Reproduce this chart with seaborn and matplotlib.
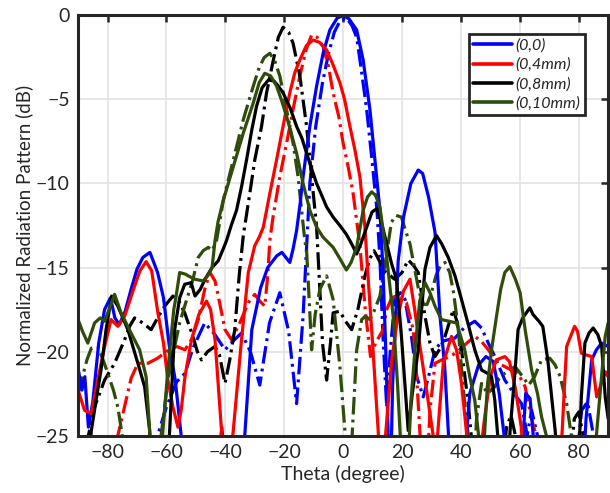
import numpy as np
import pandas as pd
import matplotlib
matplotlib.use("Agg")
import matplotlib.pyplot as plt
from matplotlib.lines import Line2D
import seaborn as sns

# ---------------- data (theta in degree, normalized pattern in dB) ----------------
labels = ["(0,0)", "(0,4mm)", "(0,8mm)", "(0,10mm)"]

# (0,0) solid
th_b_s = [-90, -88.7, -87.7, -86.5, -85, -83, -81, -79, -77.5, -76, -74, -72, -70, -68, -65.6, -63, -61, -59, -57, -55, -54,
          -42.5, -41.2, -40, -34, -33.4, -31, -28, -25.6, -22.5, -20.8, -18.1, -17, -15.8, -14.6, -13.6, -11.3, -9.0, -6.8, -4.5,
          -2, 0, 2, 4.6, 6.8, 9.1, 10.8, 12.5, 13.5, 14.5, 15.3, 15.8, 16.2, 16.8, 18.7, 20.5, 23, 25.5, 27, 29, 31.2, 32.9, 34.5,
          35.7, 36.5, 41, 43, 46, 48.5, 51, 53, 55, 56, 60.5, 62, 63.5, 65.5, 81.5, 82.5, 84.4, 86, 87.8, 90]
db_b_s = [-21.0, -22.3, -21.5, -24.5, -23, -19.5, -17.5, -16.8, -18.0, -18.4, -17.6, -16.3, -15.1, -14.4, -14.1, -15.3, -16.8, -19.7, -21.7, -25, -27,
          -27, -24.5, -27, -27, -25, -18.7, -16.2, -15.0, -14.3, -14.1, -14.7, -13.9, -12.8, -11.2, -9.6, -6.6, -4.2, -2.25, -0.86,
          -0.15, 0, -0.2, -0.86, -2.65, -5.6, -8.6, -11.6, -15, -20, -25, -27, -27, -22, -14.6, -12, -10, -9.2, -9.4, -10.8, -12.9, -17.9, -20.9,
          -24.7, -27, -27, -22.5, -20.8, -20.3, -20.6, -22.5, -25.5, -27, -27, -22.5, -22.8, -27, -27, -24, -20.5, -19.9, -19.5, -19.7]

# (0,0) dash-dot
th_b_d = [-90, -64, -63, -60, -56.5, -53.7, -51, -47, -43.5, -40.1, -37.5, -34.5, -31.5, -28.3, -25, -21.5, -18.5, -15.8, -13.6,
          -11.3, -9.3, -7.0, -5, -3, -1, 1.2, 3, 4.6, 6, 8, 9.8, 11.5, 12.5, 13.5, 14.8, 16, 17.6, 19.5, 21, 23.2, 25, 27.2, 29, 31.2,
          33.5, 35.7, 38, 41, 44.7, 47, 49.3, 51.5, 54.9, 58, 60.6, 62.5, 63, 64, 66, 67, 79, 81, 83, 85, 86, 90]
db_b_d = [-27, -27, -25.0, -23.3, -21.8, -21.3, -19.8, -18.3, -19.0, -19.9, -19.4, -18.9, -20.0, -22.0, -18.3, -16.5, -18.8, -23.1, -17.9,
          -10, -6.6, -4.0, -2.3, -1.0, -0.3, -0.15, -0.6, -1.3, -3.0, -5.6, -8.6, -11.6, -14.5, -19, -23.3, -20, -16.8, -16.5, -16.9, -19.1,
          -21.5, -22.7, -21.5, -19.9, -19.4, -19.3, -19.2, -18.6, -18.2, -18.6, -19.5, -20.3, -21.7, -22.5, -23.1, -25, -24.5, -23.5, -25,
          -27, -27, -23.5, -23, -25, -27, -27]

# (0,4mm) solid
th_r_s = [-90, -87.8, -85.5, -83.3, -81, -78.8, -76.5, -74.2, -72.5, -70.8, -69, -66.9, -65, -62.9, -61, -59.5, -57.8, -56.1, -55,
          -53.7, -51.5, -49, -46.4, -45, -43.5, -41.3, -40.5, -38.5, -37.3, -34.5, -32.2, -30, -28.5, -27.1, -24.9, -22.6, -20.4, -18.1,
          -16.4, -14.7, -12.5, -10.2, -8, -5.6, -3.5, -1.1, 0.5, 2.3, 4, 5.7, 7.4, 8.6, 10, 11.9, 12.5, 13.8, 14.4, 16.5, 18.5, 20.5,
          22.7, 24.3, 26.1, 28.5, 30.5, 31.2, 32.5, 34, 36.8, 38.5, 40.2, 42, 43, 46, 48, 50, 52, 54.9, 56.5, 58.5, 60.5, 61.5, 73.5,
          74.4, 75.3, 75.9, 77, 78.6, 79.6, 80.9, 82.5, 84.4, 86.1, 87.5, 89, 90]
db_r_s = [-22.3, -23.5, -23.7, -21.7, -19.7, -18.1, -18.5, -17.9, -17.0, -16.1, -15.2, -14.65, -15.2, -17.7, -19.5, -21.7, -23.3, -24.5, -23.5,
          -21.5, -19.3, -17.8, -17.0, -17.5, -19.3, -24.7, -27, -27, -24.7, -19.3, -15.3, -13.7, -13.2, -12.6, -10.6, -8.6, -6.6, -4.6,
          -3.4, -2.65, -1.8, -1.46, -1.6, -2.05, -2.9, -4.0, -5.0, -6.6, -8.0, -9.6, -12.6, -15.9, -19.5, -24.7, -27, -27, -25, -20.5, -18, -16.4,
          -15.7, -17.5, -19.7, -22.5, -24.9, -27, -24, -20.7, -19.1, -19.9, -21.9, -25, -27, -27, -24, -21.5, -20.5, -20.3, -20.6, -22.2, -24.5, -27, -27,
          -24.7, -21.6, -19.7, -19.2, -18.5, -18.8, -20.1, -20.2, -20.3, -22.7, -22, -21.2, -21.5]

# (0,4mm) dash-dot
th_r_d = [-90, -78, -76.5, -74.5, -72, -69.7, -66.3, -63, -60, -56.5, -53.7, -51.5, -49.2, -47, -45.2, -43.5, -42.4, -40.1, -37.9, -35.1,
          -32.2, -30, -28.3, -26.6, -25.6, -24.9, -23.8, -21.5, -19.2, -17.0, -14.7, -12.5, -10.7, -8.8, -6.8, -5, -3.4, -1.5, 0, 1.7,
          3.4, 5.7, 7.5, 9.3, 11, 13.6, 14.8, 16.5, 18.1, 19.8, 21.5, 23.8, 24.8, 26.1, 26.6, 28.5, 29.5, 31.2, 33.5, 36.2, 39, 42, 44.7,
          47, 49.3, 52.7, 56, 59.4, 61.8, 64, 65.5, 66.5, 90]
db_r_d = [-27, -27, -25, -23.5, -21.6, -20.7, -20.7, -20.4, -20.0, -19.7, -19.9, -19.3, -18.1, -16.3, -15.3, -15.8, -16.7, -18.7, -19.3, -18.3,
          -17.1, -16.6, -17.0, -17.3, -15.5, -13.4, -12.0, -9.6, -7.6, -5.6, -3.6, -2.0, -1.16, -1.3, -1.86, -3.0, -4.6, -6.0, -7.6, -9.0,
          -10.6, -13.7, -17.5, -20.3, -19.5, -18.7, -17.5, -16.8, -16.7, -16.8, -17.1, -18.7, -21, -24.9, -27, -27, -23.5, -20.7, -20.5, -20.3,
          -20.0, -19.5, -19.1, -19.4, -19.9, -20.7, -21, -21.3, -22.1, -24, -25, -27, -27]

# (0,8mm) solid
th_k_s = [-90, -86.5, -85.5, -83.8, -82.2, -80.5, -78.6, -76.5, -73.1, -69.7, -67.4, -65.7, -65, -59.7, -58.9, -57.2, -55.5, -53.8, -51.6,
          -50.3, -48.5, -46.9, -44.5, -42.4, -40.5, -39.6, -38, -36.2, -34.5, -32.8, -31, -29.4, -27.5, -25.4, -23.5, -22, -20.4, -18,
          -15.8, -14, -12.4, -11.3, -9.0, -6.8, -5.6, -3.4, -1.1, 1, 2.3, 3.5, 4.6, 6, 8.0, 9.8, 11.4, 13, 14.8, 16.5, 18.1, 19.8, 21,
          22.1, 23.5, 25.5, 27.8, 29.5, 31.7, 33.5, 35.7, 38, 40.2, 42.5, 44.7, 47.0, 49, 50.4, 51.5, 52.5, 53.5, 56, 56.7, 58.4, 59.4,
          61, 63.4, 64.5, 66.5, 67.8, 69.5, 70.8, 72, 73, 79.5, 80.3, 80.9, 82.1, 83.5, 84.9, 86.5, 87.8, 89, 90]
db_k_s = [-27, -27, -24.7, -22.8, -21.1, -18.7, -16.7, -17.3, -18.7, -20.7, -22.1, -24.7, -27, -27, -24.7, -18.7, -16.8, -16.0, -15.9,
          -16.7, -16.3, -15.7, -15.0, -14.6, -13.8, -13.4, -12.5, -11.6, -10.2, -8.6, -6.8, -5.4, -4.3, -3.84, -3.9, -4.2, -4.6, -5.5,
          -6.6, -7.3, -8.2, -8.8, -10.0, -10.9, -11.4, -12.0, -12.5, -13.0, -13.4, -13.8, -14.2, -13.6, -12.6, -11.7, -11.5, -12.3, -13.6,
          -14.8, -15.7, -19.1, -22, -24.7, -22.5, -19.9, -15.1, -13.8, -13.1, -13.6, -14.4, -15.5, -16.9, -18.4, -19.9, -21.1, -21.3, -21.5,
          -22.9, -25, -27, -27, -24.7, -21.1, -18.7, -18.0, -17.4, -17.8, -18.2, -18.5, -20.5, -22.7, -24.7, -27, -27, -25, -22.7, -19.5,
          -18.9, -18.6, -19.0, -19.7, -22.7, -24]

# (0,8mm) dash-dot
th_k_d = [-90, -87, -86.5, -84.4, -81, -77.6, -74.2, -72.5, -70.8, -68, -65.2, -63, -60.6, -57.8, -55.8, -53.8, -51, -49.5, -48.1, -46,
          -43.5, -42, -40.1, -38.5, -36.8, -35.3, -33.9, -31.7, -30, -27.7, -26, -23.7, -22, -20.4, -18.5, -17, -14.7, -12.4, -10.7,
          -9.0, -8, -7, -5.6, -4.3, -3.4, -1.1, 0.8, 2.9, 5, 7.4, 9, 10.5, 12, 14, 17.5, 20, 22.1, 24, 25.5, 27.8, 29.5, 31.2, 33,
          34.6, 37.4, 38.8, 40.2, 42.5, 43.5, 44, 54, 55.5, 57, 58.5, 59, 77, 78.5, 80, 81.5, 82, 90]
db_k_d = [-27, -27, -25, -23.3, -21.7, -20.7, -19.3, -18.5, -18.0, -18.3, -18.7, -18.0, -17.3, -16.7, -17.0, -17.7, -19.1, -20.0, -20.5, -20.0,
          -19.7, -20.2, -21.9, -20.5, -18.7, -15.5, -13.1, -10.6, -8.6, -6.6, -4.6, -2.65, -1.3, -0.7, -1.0, -1.65, -3.6, -6.6, -9.6,
          -12.6, -16, -19.5, -21.7, -19.5, -17.7, -17.6, -18.2, -18.7, -17.5, -15.5, -14.5, -14.0, -14.5, -15.2, -15.7, -15.3, -14.55, -14.9,
          -15.3, -17.9, -19.5, -20.3, -19.8, -19.1, -17.5, -18.3, -19.9, -23.1, -25, -27, -27, -24.5, -23.8, -25, -27, -27, -24, -23.6, -25,
          -27, -27]

# (0,10mm) solid
th_g_s = [-90, -88.5, -86.7, -84.4, -82.5, -81, -79.5, -77.6, -75.4, -72, -69.1, -66.9, -65.7, -65, -62, -61.2, -59.5, -57.5, -56.7, -55.5,
          -53.5, -52.6, -50.3, -47.5, -46, -44.5, -43.5, -42.5, -40.7, -39, -37.3, -35.6, -33.9, -32.2, -30.5, -28.5, -26.6, -24.6, -22.6,
          -21, -19.2, -17.5, -15.8, -13.6, -11.3, -9.0, -6.8, -3.4, -1, 1.1, 2.7, 4.6, 6.8, 8.3, 9.7, 11, 12.5, 14.8, 17.0, 18.5, 19.3,
          20, 22, 23, 24.4, 26, 27.8, 29.5, 31.2, 33.4, 36, 38.5, 41.3, 43, 44.7, 46, 47, 48, 49, 50.4, 52, 53.5, 54.9, 56.6, 58.5, 60.1,
          61.8, 64, 66, 67.4, 69, 70, 85, 86, 88, 89, 90]
db_g_s = [-18.1, -18.8, -19.5, -18.3, -18.0, -18.2, -17.5, -16.6, -17.7, -18.9, -19.9, -21.5, -24.7, -27, -27, -24.7, -21.1, -17.5, -16.7, -15.3,
          -15.4, -15.5, -15.7, -15.8, -15.5, -15.0, -13.4, -12.3, -11.0, -10.0, -9.0, -8.0, -7.0, -6.1, -5.2, -4.0, -3.44, -3.6, -4.2,
          -5.0, -6.0, -7.1, -8.2, -10.0, -11.6, -12.6, -13.2, -13.8, -14.5, -15.15, -14.7, -13.8, -11.6, -10.8, -10.5, -10.7, -11.4, -14.4,
          -17.9, -22, -24.7, -27, -27, -23, -19.9, -17, -15.9, -16.5, -17.3, -18.1, -18.2, -18.3, -19.9, -21.5, -22.9, -25, -27, -25, -22,
          -19.9, -18, -16.3, -15.3, -14.95, -15.7, -16.5, -18.7, -21.1, -22.5, -23.9, -25, -27, -27, -25, -21, -19.1, -18.3]

# (0,10mm) dash-dot
th_g_d = [-90, -88.5, -87, -85.5, -83.3, -81.5, -79.9, -78, -76.5, -75, -74, -62.5, -61.8, -59.5, -57.2, -55.5, -53.8, -51, -49.2, -47.5,
          -45.8, -44.5, -43.0, -41.8, -40.7, -39, -37.3, -35.6, -33.9, -32.2, -30.5, -28.5, -26.8, -24.9, -23.2, -21.5, -19.2, -17.0,
          -15.3, -14.1, -13.0, -12.4, -11.5, -10.7, -9.5, -7.9, -5.6, -3.4, -1.1, 0.6, 1.2, 2.5, 3.2, 4.6, 6.3, 7.5, 9.1, 10.5, 12.5,
          14.5, 16.4, 18, 19.8, 21, 22.7, 24, 25.5, 27, 28.5, 30, 31.5, 33, 34.6, 36.2, 37.5, 39, 40.2, 41.5, 42.5, 43, 44.5, 45.3,
          47.0, 49, 51.5, 53, 54.9, 58.4, 61, 63, 65, 67.4, 70.2, 72, 73.7, 75.9, 77.5, 78, 90]
db_g_d = [-22.5, -21.5, -20.5, -19.8, -19.7, -20.5, -21.3, -22.3, -23.3, -25, -27, -27, -25, -21.7, -19.7, -18.3, -17.3, -15.7, -14.4, -14.0,
          -13.8, -14.0, -13.4, -12.2, -11.0, -9.8, -8.6, -7.4, -6.2, -5.2, -4.2, -3.1, -2.5, -2.25, -2.7, -3.6, -5.6, -7.6,
          -9.6, -11.6, -13.4, -14.0, -17, -19.9, -17.8, -16.3, -15.5, -16.9, -20.9, -24.7, -27, -27, -24.5, -19.9, -18.1, -17.9, -18.1, -17.6,
          -16.7, -14.5, -12.3, -11.9, -12.0, -12.7, -13.6, -14.8, -16.2, -17.2, -17.2, -16.5, -15.5, -14.9, -14.7, -15.3, -16.5, -18.5,
          -21, -23.5, -25, -27, -27, -24, -21.9, -22.5, -22.1, -21.6, -21.3, -20.9, -21.5, -22, -21.5, -20.5, -20.4, -20.8, -21.5, -23.1,
          -25, -27, -27]

colors = ["#0000FF", "#FF0000", "#000000", "#2E4D0A"]
x_ticks = [-80, -60, -40, -20, 0, 20, 40, 60, 80]
y_ticks = [0, -5, -10, -15, -20, -25]

# ---------------- plotting ----------------
sns.set_theme(style="white")
plt.rcParams["font.family"] = ["Lato", "DejaVu Sans"]

fig = plt.figure(figsize=(6.10, 4.93), dpi=100)
ax = fig.add_axes([0.128, 0.1166, 0.869, 0.852])

solid = [(th_b_s, db_b_s), (th_r_s, db_r_s), (th_k_s, db_k_s), (th_g_s, db_g_s)]
dashed = [(th_b_d, db_b_d), (th_r_d, db_r_d), (th_k_d, db_k_d), (th_g_d, db_g_d)]

dashdot = (0, (5.5, 1.6, 0.9, 1.6))
lw = 2.3
for i in range(4):
    th, db = dashed[i]
    df = pd.DataFrame({"theta": th, "db": db})
    sns.lineplot(data=df, x="theta", y="db", ax=ax, color=colors[i], lw=lw,
                 linestyle=dashdot, sort=False, estimator=None, legend=False)
for i in range(4):
    th, db = solid[i]
    df = pd.DataFrame({"theta": th, "db": db})
    sns.lineplot(data=df, x="theta", y="db", ax=ax, color=colors[i], lw=lw,
                 sort=False, estimator=None, legend=False)

ax.set_xlim(-90, 90)
ax.set_ylim(-25, 0)
ax.set_xticks(x_ticks)
ax.set_yticks(y_ticks)
ax.grid(True, color="#E3E3E3", lw=1.2)
ax.set_axisbelow(True)
ax.tick_params(direction="in", length=5, width=1.8, top=True, right=True,
               labelsize=14, colors="#262626", pad=6)
for s in ax.spines.values():
    s.set_linewidth(2.2)
    s.set_color("#262626")
ax.set_xlabel("Theta (degree)", fontsize=14, color="#262626", labelpad=3)
ax.set_ylabel("Normalized Radiation Pattern (dB)", fontsize=13.5, color="#262626", labelpad=2)

handles = [Line2D([], [], color=c, lw=2.6) for c in colors]
leg = ax.legend(handles, labels, loc="upper right", bbox_to_anchor=(0.957, 0.956),
                borderaxespad=0.0,
                prop={"style": "italic", "size": 11.5}, handlelength=2.4,
                handletextpad=0.25, labelspacing=0.3, borderpad=0.3,
                fancybox=False, framealpha=1, edgecolor="#262626")
leg.get_frame().set_linewidth(2.0)

fig.savefig("out.png", dpi=100)
